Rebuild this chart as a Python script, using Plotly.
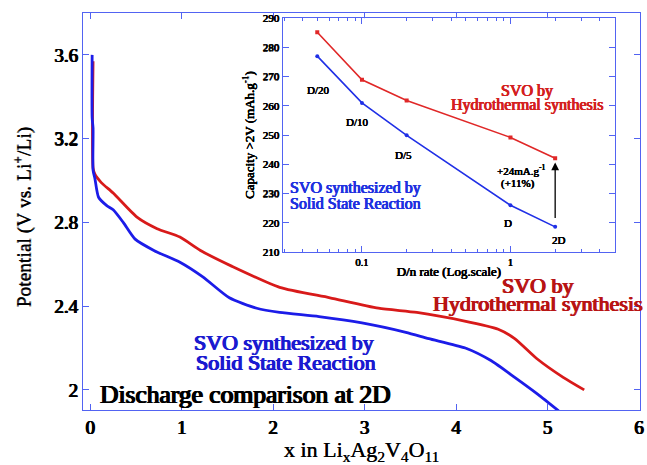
import plotly.graph_objects as go
import numpy as np

# Main discharge curves (x in LixAg2V4O11, potential V vs Li+/Li)
hydro_x = [0.03, 0.03, 0.05, 0.12, 0.25, 0.51, 0.73, 0.98, 1.2, 1.55, 2.07, 2.62, 3.15, 3.57,
           4.08, 4.46, 4.64, 4.88, 5.17, 5.40]
hydro_v = [3.57, 3.06, 3.03, 2.99, 2.94, 2.825, 2.77, 2.73, 2.667, 2.59, 2.49, 2.44, 2.39, 2.37,
           2.33, 2.29, 2.245, 2.15, 2.06, 2.0]
solid_x = [0.02, 0.02, 0.03, 0.03, 0.05, 0.09, 0.18, 0.25, 0.36, 0.49, 0.7, 0.98, 1.23, 1.52,
           1.82, 2.07, 2.5, 2.97, 3.45, 3.7, 4.10, 4.38, 4.64, 4.89, 5.12]
solid_v = [3.60, 3.30, 3.25, 3.05, 3.01, 2.92, 2.88, 2.86, 2.80, 2.72, 2.665, 2.61, 2.54, 2.44,
           2.39, 2.37, 2.35, 2.32, 2.275, 2.245, 2.20, 2.14, 2.06, 1.98, 1.90]

# Inset: capacity > 2V vs D/n rate
rate = [0.05, 0.1, 0.2, 1, 2]
cap_hydro = [285.2, 268.9, 261.8, 249.2, 242.1]
cap_solid = [277.0, 261.0, 249.9, 226.0, 218.6]
rate_labels = ["D/20", "D/10", "D/5", "D", "2D"]

main_xticks = [0, 1, 2, 3, 4, 5, 6]
main_yticks = [2, 2.4, 2.8, 3.2, 3.6]
inset_yticks = [210, 220, 230, 240, 250, 260, 270, 280, 290]
inset_xticks = [0.1, 1]
inset_minor = [0.03, 0.04, 0.05, 0.06, 0.07, 0.08, 0.09, 0.2, 0.3, 0.4, 0.5, 0.6, 0.7, 0.8, 0.9,
               2, 3, 4, 5]

FONT = "Liberation Serif"
FRAME = "#5263f2"
RED = "#d81a1a"
BLUE = "#1c1ce8"
RED_T = "#b81414"
BLUE_T = "#1a1ad0"


def bold_font(size, color, k=0.5):
    # emulate a heavy serif face with a thin same-colour text shadow
    d = "%.2fpx" % (k * size / 20.0 + 0.15)
    sh = "%s 0 0 %s, -%s 0 0 %s, 0 0.3px 0 %s" % (d, color, d, color, color)
    return dict(family=FONT, size=size, color=color, shadow=sh)


fig = go.Figure()
fig.add_trace(go.Scatter(x=hydro_x, y=hydro_v, mode="lines",
                         line=dict(color=RED, width=2.8, shape="spline", smoothing=0.6),
                         xaxis="x", yaxis="y", showlegend=False))
fig.add_trace(go.Scatter(x=solid_x, y=solid_v, mode="lines",
                         line=dict(color=BLUE, width=2.8, shape="spline", smoothing=0.6),
                         xaxis="x", yaxis="y", showlegend=False))
fig.add_trace(go.Scatter(x=rate, y=cap_hydro, mode="lines+markers",
                         line=dict(color="#e02828", width=1.6),
                         marker=dict(symbol="square", size=4, color="#e02828"),
                         xaxis="x2", yaxis="y2", showlegend=False))
fig.add_trace(go.Scatter(x=rate, y=cap_solid, mode="lines+markers",
                         line=dict(color="#2030e6", width=1.6),
                         marker=dict(symbol="circle", size=4, color="#2030e6"),
                         xaxis="x2", yaxis="y2", showlegend=False))

axis_common = dict(showline=True, linecolor=FRAME, linewidth=1, mirror="ticks", ticks="inside",
                   tickcolor=FRAME, showgrid=False, zeroline=False)

fig.update_layout(
    width=647, height=465,
    margin=dict(l=83, r=3, t=13, b=55),
    paper_bgcolor="white", plot_bgcolor="white",
    font=dict(family=FONT, color="black", size=12),
    xaxis=dict(**axis_common, range=[-0.08, 6.01], tickvals=main_xticks,
               ticklen=6, ticklabeloverflow="allow",
               tickfont=bold_font(19, "black"),
               title=dict(text="x in Li<sub>x</sub>Ag<sub>2</sub>V<sub>4</sub>O<sub>11</sub>",
                          font=dict(family=FONT, size=22, color="black",
                                    shadow="0.35px 0 0 black"), standoff=7),
               domain=[0, 1]),
    yaxis=dict(**axis_common, range=[1.904, 3.80], tickvals=main_yticks,
               ticktext=["2", "2.4", "2.8", "3.2", "3.6"],
               ticklen=6,
               tickfont=bold_font(19, "black"),
               domain=[0, 1]),
    xaxis2=dict(**axis_common, type="log", range=[np.log10(0.0292), np.log10(5.07)],
                tickvals=inset_xticks, ticktext=["0.1", "1"], ticklen=6,
                minor=dict(tickvals=inset_minor, ticks="inside", ticklen=3, tickcolor=FRAME),
                tickfont=bold_font(10.5, "black", 0.3),
                title=dict(text="D/n rate (Log.scale)",
                           font=bold_font(13, "black", 0.3),
                           standoff=0),
                domain=[0.3583, 0.9554], anchor="y2"),
    yaxis2=dict(**axis_common, range=[210, 290], tickvals=inset_yticks, ticklen=6,
                tickfont=bold_font(11, "black", 0.3),
                title=dict(text="Capacity >2V (mAh.g<sup>-1</sup>)",
                           font=bold_font(13, "black", 0.3),
                           standoff=5),
                domain=[0.398, 0.987], anchor="x2"),
)

ann = []
def A(x, y, text, size, color, xref="x", yref="y", k=0.5):
    ann.append(dict(x=x, y=y, xref=xref, yref=yref, text=text,
                    showarrow=False, font=bold_font(size, color, k),
                    xanchor="center", yanchor="middle"))

# main y-axis title (placed as rotated text so it sits where the reference has it)
ann.append(dict(x=-0.109, y=0.486, xref="paper", yref="paper",
                text="Potential (V vs. Li<sup>+</sup>/Li)", textangle=-90, showarrow=False,
                font=dict(family=FONT, size=19.5, color="black", shadow="0 0.3px 0 black"),
                xanchor="center", yanchor="middle"))

# main annotations
A(1.70, 1.98, "Discharge comparison at 2D", 25.5, "black")
A(2.12, 2.227, "SVO synthesized by", 22, BLUE_T)
A(2.14, 2.13, "Solid State Reaction", 22, BLUE_T)
A(4.89, 2.50, "SVO by", 22, RED_T)
A(4.89, 2.413, "Hydrothermal synthesis", 22, RED_T)

# inset annotations
lab_pos = [(0.0508, 265.5), (0.094, 254.5), (0.191, 243.2), (0.962, 220.0), (2.11, 214.1)]
for (lx, ly), t in zip(lab_pos, rate_labels):
    A(np.log10(lx), ly, t, 11, "black", "x2", "y2", 0.3)
A(np.log10(1.19), 238.2, "+24mA.g<sup>-1</sup>", 11, "black", "x2", "y2", 0.3)
A(np.log10(1.12), 233.3, "(+11%)", 11, "black", "x2", "y2", 0.3)
A(np.log10(1.29), 265.2, "SVO by", 16, "#d42020", "x2", "y2", 0.4)
A(np.log10(1.29), 260.4, "Hydrothermal synthesis", 16, "#d42020", "x2", "y2", 0.4)
A(np.log10(0.0898), 232.0, "SVO synthesized by", 16, "#2030e0", "x2", "y2", 0.4)
A(np.log10(0.0898), 226.5, "Solid State Reaction", 16, "#2030e0", "x2", "y2", 0.4)

# arrow from solid-state 2D to hydrothermal 2D
ann.append(dict(x=np.log10(rate[-1]), y=cap_hydro[-1] - 1.5, ax=np.log10(rate[-1]),
                ay=cap_solid[-1] + 2.5, xref="x2", yref="y2", axref="x2", ayref="y2",
                showarrow=True, arrowhead=2, arrowsize=1.2, arrowwidth=1.3,
                arrowcolor="black", text=""))

fig.update_layout(annotations=ann)
fig.write_html("out.html")
